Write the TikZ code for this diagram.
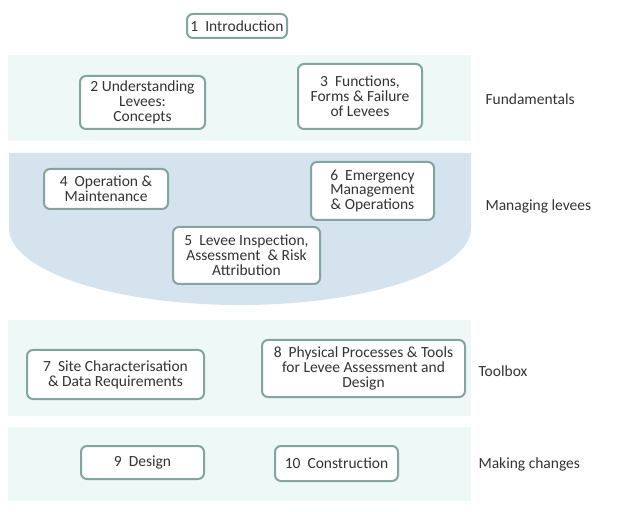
\documentclass[tikz,border=0pt]{standalone}
\usepackage{fontspec}
\setmainfont{Carlito}
\usepackage{xcolor}
\usepackage{tikz}
\definecolor{LeveeFrame}{HTML}{84A59D}
\definecolor{LeveeLight}{HTML}{EDF8F7}
\definecolor{LeveeBlue}{HTML}{D5E3EF}
\definecolor{LeveeText}{HTML}{333333}

\begin{document}
\begin{tikzpicture}[
  x=1pt, y=1pt,
  chapter/.style={draw=LeveeFrame, line width=2pt, rounded corners=6pt, fill=white, align=center,
    inner sep=0pt, text=LeveeText, font=\fontsize{15.5}{14.8}\selectfont},
  part/.style={anchor=west, text=LeveeText, font=\fontsize{15.5}{14.8}\selectfont}
]
  \useasboundingbox (0,0) rectangle (628,511);

  % background bands
  \fill[LeveeLight] (8,370) rectangle (471,456);
  \fill[LeveeBlue] (9,358) -- (471,358) -- (471,283)
    arc[start angle=0, end angle=-180, x radius=231, y radius=77] -- cycle;
  \fill[LeveeLight] (8,95) rectangle (471,191);
  \fill[LeveeLight] (8,10) rectangle (471,84);

  % chapters
  \node[chapter, minimum width=100, minimum height=24] (intro) at (237,485) {1~ Introduction};
  \node[chapter, minimum width=125, minimum height=53] (concepts) at (142.5,408.5) {2 Understanding\\Levees:\\Concepts};
  \node[chapter, minimum width=124, minimum height=65] (functions) at (360,414.5) {3~ Functions,\\Forms \& Failure\\of Levees};
  \node[chapter, minimum width=124, minimum height=40] (operation) at (106,322) {4~ Operation \&\\Maintenance};
  \node[chapter, minimum width=123, minimum height=58] (emergency) at (372.5,320) {6~ Emergency\\Management\\\& Operations};
  \node[chapter, minimum width=147, minimum height=57] (inspection) at (246.5,255.5) {5~ Levee Inspection,\\Assessment~ \& Risk\\Attribution};
  \node[chapter, minimum width=177, minimum height=49] (site) at (115.5,136.5) {7~ Site Characterisation\\\& Data Requirements};
  \node[chapter, minimum width=203, minimum height=57] (physical) at (363.5,142.5) {8~ Physical Processes \& Tools\\for Levee Assessment and\\Design};
  \node[chapter, minimum width=123, minimum height=33] (design) at (142.5,48.5) {9~ Design};
  \node[chapter, minimum width=123, minimum height=35] (construction) at (336.5,47.5) {10~ Construction};

  % part labels
  \node[part] (fundamentals) at (482,412) {Fundamentals};
  \node[part] (managing) at (482,305) {Managing levees};
  \node[part] (toolbox) at (475,140) {Toolbox};
  \node[part] (changes) at (475,47) {Making changes};
\end{tikzpicture}
\end{document}
